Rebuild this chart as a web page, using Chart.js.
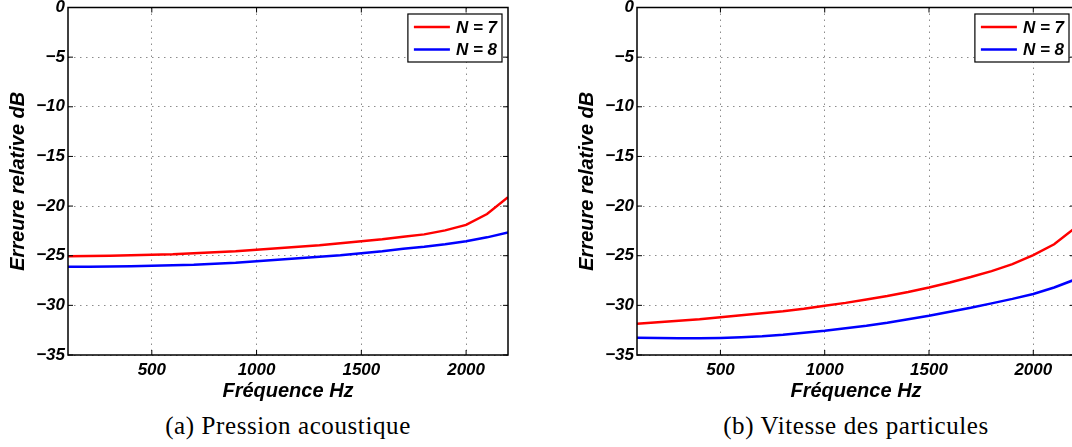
<!DOCTYPE html>
<html>
<head>
<meta charset="utf-8">
<script src="https://cdn.jsdelivr.net/npm/chart.js@4.4.1/dist/chart.umd.min.js"></script>
<style>
  html, body { margin: 0; padding: 0; background: #fff; width: 1072px; height: 447px; overflow: hidden; }
  .panel { position: absolute; top: 0; }
  .caption {
    position: absolute;
    top: 412px;
    font-family: "Liberation Serif", serif;
    font-size: 25px;
    letter-spacing: 0.6px;
    line-height: 28px;
    color: #000;
    white-space: nowrap;
    transform: translateX(-50%);
  }
</style>
</head>
<body>
<div class="panel" style="left:0"><canvas id="chartA" width="536" height="403"></canvas></div>
<div class="panel" style="left:569px"><canvas id="chartB" width="534" height="403"></canvas></div>
<div class="caption" style="left:288px">(a) Pression acoustique</div>
<div class="caption" style="left:856px">(b) Vitesse des particules</div>
<script>
// frequencies (Hz)
const freqHz = [100, 200, 300, 400, 500, 600, 700, 800, 900, 1000, 1100,
  1200, 1300, 1400, 1500, 1600, 1700, 1800, 1900, 2000, 2100, 2200];

// (a) pression acoustique, erreur relative en dB
const pressionN7 = [-25.05, -25.03, -25.0, -24.95, -24.9, -24.85, -24.75, -24.65,
  -24.55, -24.4, -24.25, -24.1, -23.95, -23.75, -23.55, -23.35, -23.1, -22.85,
  -22.45, -21.9, -20.8, -19.1];
const pressionN8 = [-26.1, -26.1, -26.08, -26.05, -26.0, -25.95, -25.9, -25.8,
  -25.7, -25.55, -25.4, -25.25, -25.1, -24.95, -24.75, -24.55, -24.3, -24.1,
  -23.85, -23.55, -23.15, -22.65];

// (b) vitesse des particules
const vitesseN7 = [-31.85, -31.7, -31.55, -31.4, -31.2, -31.0, -30.8, -30.6,
  -30.35, -30.05, -29.75, -29.4, -29.05, -28.65, -28.2, -27.7, -27.15, -26.55,
  -25.85, -24.95, -23.85, -22.2];
const vitesseN8 = [-33.25, -33.3, -33.32, -33.32, -33.28, -33.2, -33.1, -32.95,
  -32.75, -32.55, -32.3, -32.05, -31.75, -31.4, -31.05, -30.65, -30.25, -29.8,
  -29.35, -28.85, -28.2, -27.4];

const seriesLabels = ["N = 7", "N = 8"];
const seriesColors = ["#ff0000", "#0000ff"];
const xTicks = [500, 1000, 1500, 2000];
const yMin = -35;
const yMax = 0;
const yStep = 5;

const axisFont = { family: "'Liberation Sans', Arial, sans-serif", size: 17, style: "italic", weight: "bold" };
const titleFont = { family: "'Liberation Sans', Arial, sans-serif", size: 20, style: "italic", weight: "bold" };

// box, inward tick marks and legend inside the plot (MATLAB look)
const framePlugin = {
  id: "frame",
  afterDraw(chart) {
    const { ctx, chartArea: a, scales } = chart;
    ctx.save();
    ctx.strokeStyle = "#000";
    ctx.lineWidth = 1;
    ctx.beginPath();
    scales.x.ticks.forEach((t) => {
      const px = scales.x.getPixelForValue(t.value);
      ctx.moveTo(px, a.bottom);
      ctx.lineTo(px, a.bottom - 5);
      ctx.moveTo(px, a.top);
      ctx.lineTo(px, a.top + 5);
    });
    scales.y.ticks.forEach((t) => {
      const py = scales.y.getPixelForValue(t.value);
      ctx.moveTo(a.left, py);
      ctx.lineTo(a.left + 5, py);
      ctx.moveTo(a.right, py);
      ctx.lineTo(a.right - 5, py);
    });
    ctx.stroke();
    ctx.lineWidth = 1.5;
    ctx.strokeRect(a.left, a.top, a.right - a.left, a.bottom - a.top);

    // legend
    ctx.font = "italic bold 17px 'Liberation Sans', Arial, sans-serif";
    const datasets = chart.data.datasets;
    const textW = Math.max(...datasets.map((d) => ctx.measureText(d.label).width));
    const boxW = 6 + 36 + 6 + textW + 5;
    const boxH = 48;
    const bx = a.right - 6 - boxW;
    const by = a.top + 6.5;
    ctx.fillStyle = "#fff";
    ctx.fillRect(bx, by, boxW, boxH);
    ctx.lineWidth = 1.2;
    ctx.strokeRect(bx, by, boxW, boxH);
    datasets.forEach((d, i) => {
      const ry = by + 13 + i * 22.5;
      ctx.strokeStyle = d.borderColor;
      ctx.lineWidth = 2.5;
      ctx.beginPath();
      ctx.moveTo(bx + 6, ry);
      ctx.lineTo(bx + 42, ry);
      ctx.stroke();
      ctx.fillStyle = "#000";
      ctx.textBaseline = "middle";
      ctx.textAlign = "left";
      ctx.fillText(d.label, bx + 48, ry + 1);
    });
    ctx.restore();
  },
};

function makeChart(canvasId, n7, n8) {
  const ctx = document.getElementById(canvasId).getContext("2d");
  return new Chart(ctx, {
    type: "line",
    data: {
      datasets: [n7, n8].map((values, i) => ({
        label: seriesLabels[i],
        data: freqHz.map((f, k) => ({ x: f, y: values[k] })),
        borderColor: seriesColors[i],
        backgroundColor: seriesColors[i],
        borderWidth: 2.5,
        pointRadius: 0,
        tension: 0,
        fill: false,
      })),
    },
    options: {
      responsive: false,
      animation: false,
      layout: { padding: { top: 7.5, right: 28, bottom: 0, left: 0 } },
      plugins: {
        legend: { display: false },
        tooltip: { enabled: false },
      },
      scales: {
        x: {
          type: "linear",
          min: freqHz[0],
          max: freqHz[freqHz.length - 1],
          afterBuildTicks: (scale) => {
            scale.ticks = xTicks.map((v) => ({ value: v }));
          },
          afterFit: (scale) => {
            scale.height = 48;
            scale.paddingLeft = 0;
            scale.paddingRight = 0;
          },
          grid: { color: "rgba(0,0,0,0.45)", lineWidth: 1, drawTicks: false },
          border: { display: false, dash: [1.5, 4.5] },
          ticks: {
            color: "#000",
            font: axisFont,
            padding: 5,
            maxRotation: 0,
            callback: (v) => String(v),
          },
          title: { display: true, text: "Fréquence Hz", color: "#000", font: titleFont, padding: 0 },
        },
        y: {
          min: yMin,
          max: yMax,
          afterFit: (scale) => {
            scale.width = 68;
            scale.paddingTop = 0;
            scale.paddingBottom = 0;
          },
          grid: { color: "rgba(0,0,0,0.45)", lineWidth: 1, drawTicks: false },
          border: { display: false, dash: [1.5, 4.5] },
          ticks: {
            stepSize: yStep,
            color: "#000",
            font: axisFont,
            padding: 3,
            callback: (v) => (v < 0 ? "\u2212" + Math.abs(v) : String(v)),
          },
          title: { display: true, text: "Erreure relative dB", color: "#000", font: titleFont, padding: { top: 6, bottom: 0 } },
        },
      },
    },
    plugins: [framePlugin],
  });
}

makeChart("chartA", pressionN7, pressionN8);
makeChart("chartB", vitesseN7, vitesseN8);
</script>
</body>
</html>
